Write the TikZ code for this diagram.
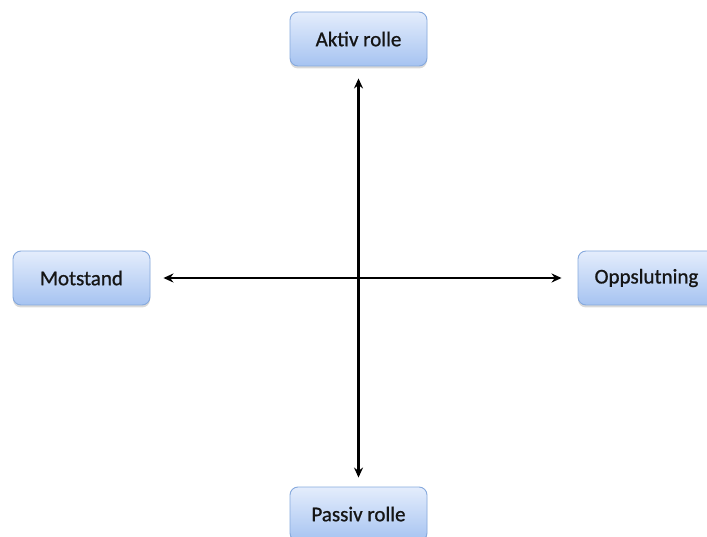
\documentclass[tikz,border=0pt]{standalone}
\usepackage{fontspec}
\setmainfont{Carlito}
\newfontfamily\boxfont{Carlito}[FakeBold=0.9]
\usetikzlibrary{arrows.meta,shadows}
\definecolor{boxtop}{HTML}{E4EDFC}
\definecolor{boxbottom}{HTML}{A6C3F1}
\definecolor{boxedge}{HTML}{86A9DD}
\definecolor{labeltext}{HTML}{151515}
\tikzset{
  rolebox/.style={draw=boxedge, line width=0.9pt, rounded corners=8pt,
    top color=boxtop, bottom color=boxbottom,
    minimum width=137pt, minimum height=54pt, inner sep=0pt,
    font=\boxfont\fontsize{21}{25}\selectfont, text=labeltext,
    drop shadow={opacity=0.3, shadow xshift=0pt, shadow yshift=-2.5pt}},
  axis/.style={line width=2.2pt, {Stealth[length=10pt,width=9pt]}-{Stealth[length=10pt,width=9pt]}}
}
\begin{document}
\begin{tikzpicture}[x=1pt,y=-1pt]
  \useasboundingbox (0,0) rectangle (707,537);
  % the four role boxes
  \node[rolebox] (aktiv) at (358.5,39) {Aktiv rolle};
  \node[rolebox] (passiv) at (358.5,514) {Passiv rolle};
  \node[rolebox] (motstand) at (81.5,278) {Motstand};
  \node[rolebox] (oppslutning) at (646.5,278) {Oppslutning};
  % the two crossing axes
  \draw[axis, shorten <=12pt, shorten >=9pt] (aktiv.south) -- (passiv.north);
  \draw[axis, shorten <=13pt, shorten >=16pt] (motstand.east) -- (oppslutning.west);
\end{tikzpicture}
\end{document}
